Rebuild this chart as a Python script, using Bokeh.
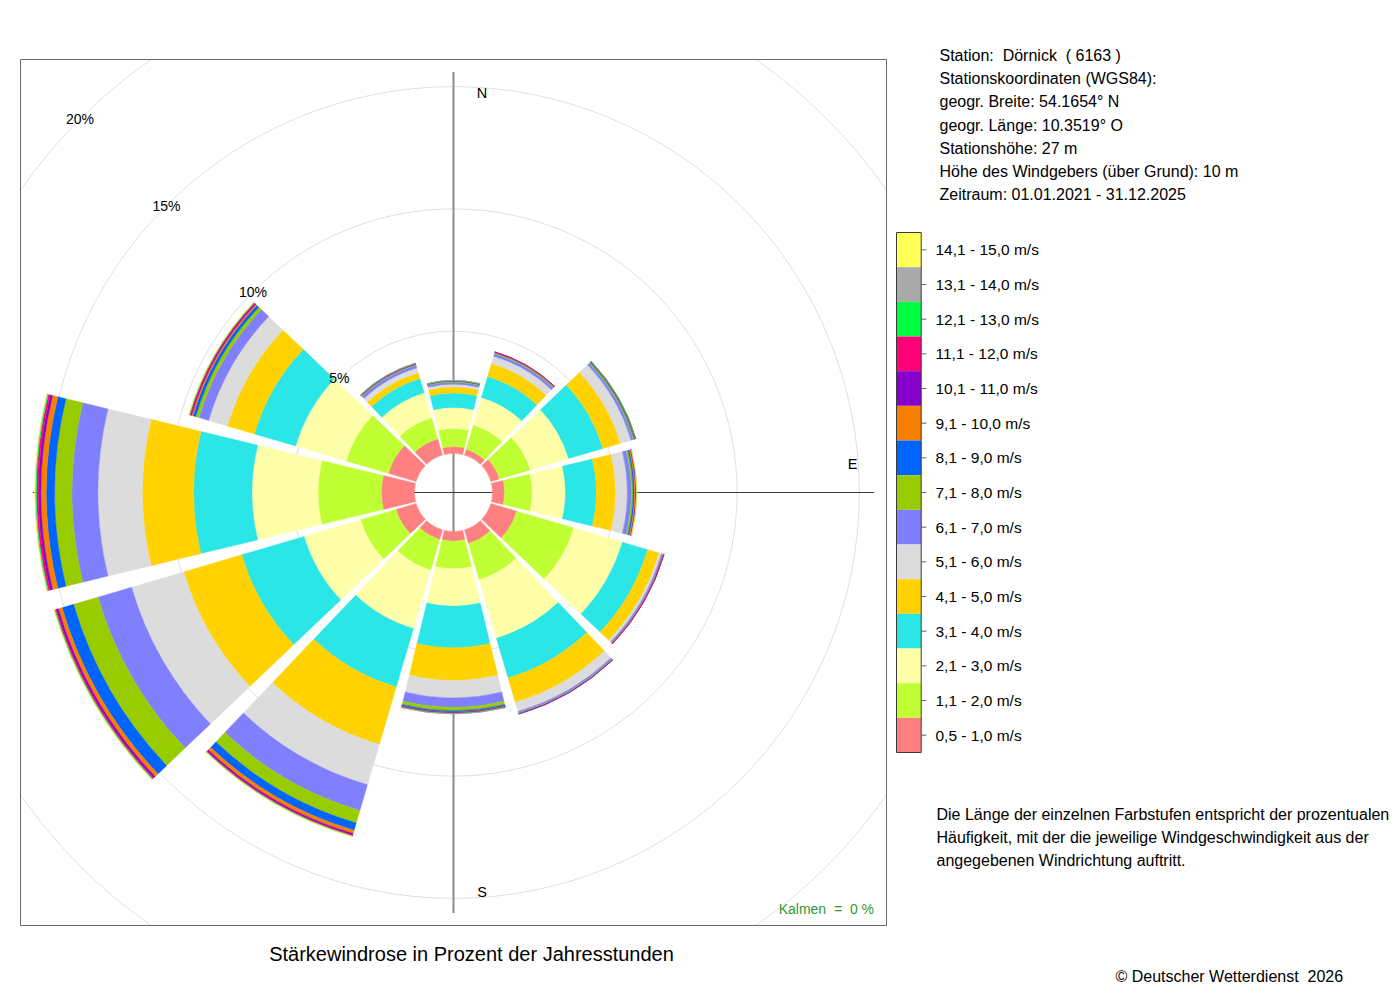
import math
from bokeh.plotting import figure
from bokeh.models import ColumnDataSource, Range1d
from bokeh.core.properties import value
from bokeh.embed import file_html
from bokeh.resources import INLINE

# ---------------- data ----------------
directions = [0, 30, 60, 90, 120, 150, 180, 210, 240, 270, 300, 330]  # compass degrees

speed_classes = ["0,5 - 1,0 m/s", "1,1 - 2,0 m/s", "2,1 - 3,0 m/s", "3,1 - 4,0 m/s",
                 "4,1 - 5,0 m/s", "5,1 - 6,0 m/s", "6,1 - 7,0 m/s", "7,1 - 8,0 m/s",
                 "8,1 - 9,0 m/s", "9,1 - 10,0 m/s", "10,1 - 11,0 m/s", "11,1 - 12,0 m/s",
                 "12,1 - 13,0 m/s", "13,1 - 14,0 m/s", "14,1 - 15,0 m/s"]
class_colors = ["#FF8080", "#C0FF33", "#FFFFAA", "#2AE6E6", "#FFD200", "#DCDCDC",
                "#8080FF", "#99CC00", "#0064FF", "#F88000", "#8800CC", "#FF0078",
                "#00FF40", "#AAAAAA", "#FFFF55"]

# frequency (% of hours) per speed class, one value per direction
freq_00 = [0.28, 0.24, 0.36, 0.49, 1.10, 0.57, 0.39, 0.40, 0.85, 1.35, 1.18, 0.69]
freq_01 = [0.74, 1.04, 1.31, 1.13, 2.43, 1.55, 1.13, 1.31, 1.51, 2.59, 1.80, 0.90]
freq_02 = [0.86, 1.17, 1.64, 1.36, 2.07, 2.49, 1.53, 2.49, 2.41, 2.70, 2.15, 1.06]
freq_03 = [0.59, 0.90, 1.46, 1.26, 1.08, 1.70, 1.70, 2.49, 2.66, 2.39, 1.76, 0.61]
freq_04 = [0.25, 0.55, 0.75, 0.79, 0.49, 1.04, 1.34, 2.45, 2.47, 2.09, 1.15, 0.25]
freq_05 = [0.11, 0.31, 0.45, 0.48, 0.10, 0.39, 0.71, 1.72, 2.23, 1.82, 0.80, 0.20]
freq_06 = [0.08, 0.11, 0.10, 0.16, 0.06, 0.06, 0.38, 1.10, 1.43, 1.06, 0.41, 0.12]
freq_07 = [0.03, 0.04, 0.04, 0.07, 0.02, 0.03, 0.14, 0.53, 1.04, 0.71, 0.14, 0.03]
freq_08 = [0.02, 0.02, 0.03, 0.06, 0.01, 0.01, 0.06, 0.31, 0.49, 0.34, 0.12, 0.02]
freq_09 = [0.01, 0.01, 0.02, 0.05, 0.01, 0.01, 0.02, 0.14, 0.16, 0.22, 0.06, 0.01]
freq_10 = [0.004, 0.005, 0.01, 0.02, 0.005, 0.005, 0.02, 0.06, 0.08, 0.10, 0.04, 0.01]
freq_11 = [0.004, 0.004, 0.005, 0.01, 0.004, 0.0, 0.02, 0.04, 0.05, 0.08, 0.04, 0.01]
freq_12 = [0.004, 0.0, 0.004, 0.01, 0.0, 0.0, 0.01, 0.02, 0.03, 0.04, 0.02, 0.004]
freq_13 = [0.004, 0.0, 0.0, 0.005, 0.0, 0.0, 0.004, 0.01, 0.02, 0.02, 0.01, 0.004]
freq_14 = [0.0, 0.0, 0.0, 0.005, 0.0, 0.0, 0.0, 0.01, 0.01, 0.01, 0.01, 0.0]
frequencies = [freq_00, freq_01, freq_02, freq_03, freq_04, freq_05, freq_06, freq_07,
               freq_08, freq_09, freq_10, freq_11, freq_12, freq_13, freq_14]

ring_ticks = [5, 10, 15, 20]
ring_labels = ["5%", "10%", "15%", "20%"]
calm_text = "Kalmen\u00a0 =\u00a0 0 %"

station_lines = ["Station:\u00a0 Dörnick\u00a0 ( 6163 )",
                 "Stationskoordinaten (WGS84):",
                 "geogr. Breite: 54.1654° N",
                 "geogr. Länge: 10.3519° O",
                 "Stationshöhe: 27 m",
                 "Höhe des Windgebers (über Grund): 10 m",
                 "Zeitraum: 01.01.2021 - 31.12.2025"]
note_lines = ["Die Länge der einzelnen Farbstufen entspricht der prozentualen",
              "Häufigkeit, mit der die jeweilige Windgeschwindigkeit aus der",
              "angegebenen Windrichtung auftritt."]
title_text = "Stärkewindrose in Prozent der Jahresstunden"
copyright_text = "© Deutscher Wetterdienst\u00a0 2026"

# ---------------- layout ----------------
W, H = 1392, 994          # canvas size (canvas starts at page origin)
CX, CY = 453, 492         # rose centre in page pixels
K = 24.45                 # pixels per percent
FONT = value("Liberation Sans")


def X(px):
    return (px - CX) / K


def Y(py):
    return (CY - py) / K


HOLE = 1.6                 # calm circle radius (in % units)
HALF_BOX = 433 / K
AXIS_LEN = 420.5 / K
HALF_W = 13.6              # half width of a sector, degrees

p = figure(width=W, height=H, x_range=Range1d(X(0), X(W)),
           y_range=Range1d(Y(H), Y(0)), output_backend="svg",
           toolbar_location=None, x_axis_location=None, y_axis_location=None,
           min_border=0, title=None, outline_line_color=None)
p.background_fill_color = "white"
p.grid.visible = False

# grid rings
grid_col = "#dfdfdf"
inner_rings = [HOLE + t for t in ring_ticks if HOLE + t < HALF_BOX]
p.circle(x=[0] * len(inner_rings), y=[0] * len(inner_rings), radius=inner_rings,
         fill_color=None, line_color=grid_col, line_width=1)
p.circle(x=[0], y=[0], radius=[HOLE], fill_color=None, line_color="#e8e8e8", line_width=1)
r20 = HOLE + ring_ticks[-1]
a = math.acos(HALF_BOX / r20)
starts = [math.radians(q) + a for q in (0, 90, 180, 270)]
ends = [math.radians(q + 90) - a for q in (0, 90, 180, 270)]
p.arc(x=[0] * 4, y=[0] * 4, radius=r20, start_angle=starts, end_angle=ends,
      line_color=grid_col, line_width=1)

# axis lines
p.segment(x0=[0], y0=[-AXIS_LEN], x1=[0], y1=[AXIS_LEN], line_color="#8c8c8c", line_width=2)
p.segment(x0=[-AXIS_LEN], y0=[0], x1=[AXIS_LEN], y1=[0], line_color="#3c3c3c", line_width=1)

# wedges
inner, outer, st, en, col = [], [], [], [], []
for j, d in enumerate(directions):
    cum = HOLE
    for i, series in enumerate(frequencies):
        v = series[j]
        if v <= 0:
            continue
        inner.append(cum)
        outer.append(cum + v)
        st.append(math.radians(90 - d - HALF_W))
        en.append(math.radians(90 - d + HALF_W))
        col.append(class_colors[i])
        cum += v
src = ColumnDataSource(dict(x=[0] * len(inner), y=[0] * len(inner), inner=inner, outer=outer,
                            start=st, end=en, color=col))
p.annular_wedge(x="x", y="y", inner_radius="inner", outer_radius="outer",
                start_angle="start", end_angle="end", direction="anticlock",
                fill_color="color", line_color="color", line_width=0.4, source=src)

# frame box
p.quad(left=[-HALF_BOX], right=[HALF_BOX], bottom=[-HALF_BOX], top=[HALF_BOX],
       fill_color=None, line_color="#6a6a6a", line_width=1)

# ring labels (NW diagonal)
c45 = math.cos(math.radians(135))
s45 = math.sin(math.radians(135))
p.text(x=[(HOLE + t) * c45 for t in ring_ticks], y=[(HOLE + t) * s45 for t in ring_ticks],
       text=ring_labels, text_font=FONT, text_font_size=value("14px"), text_color="#000000",
       text_align="center", text_baseline="middle")

# compass labels
LAB_R = 16.32
LAB_OFF = 1.17
p.text(x=[LAB_OFF, LAB_R, LAB_OFF], y=[LAB_R, LAB_OFF, -LAB_R], text=["N", "E", "S"],
       text_font=FONT, text_font_size=value("14.5px"), text_color="#000000",
       text_align="center", text_baseline="middle")

# calm text
p.text(x=[X(873.5)], y=[Y(908)], text=[calm_text], text_font=FONT,
       text_font_size=value("14px"), text_color="#339933", text_align="right",
       text_baseline="middle")

# title below
p.text(x=[X(471)], y=[Y(953.2)], text=[title_text], text_font=FONT,
       text_font_size=value("20px"), text_color="#000000", text_align="center",
       text_baseline="middle")

# station info
p.text(x=[X(939)] * len(station_lines), y=[Y(55.0 + 23.2 * i) for i in range(len(station_lines))],
       text=station_lines, text_font=FONT, text_font_size=value("16px"), text_color="#000000",
       text_align="left", text_baseline="middle")

# legend colour bar
LEG_L, LEG_R = 896, 920.7
LEG_TOP, LEG_BOT = 232.0, 752.0
n = len(speed_classes)
STEP = (LEG_BOT - LEG_TOP) / n
tops, bots, lcols, tick_y, labs = [], [], [], [], []
for j in range(n):
    i = n - 1 - j
    t = LEG_TOP + j * STEP
    tops.append(Y(t))
    bots.append(Y(t + STEP))
    lcols.append(class_colors[i])
    tick_y.append(Y(t + STEP / 2))
    labs.append(speed_classes[i])
p.quad(left=[X(LEG_L)] * n, right=[X(LEG_R)] * n, top=tops, bottom=bots,
       fill_color=lcols, line_color=None)
p.quad(left=[X(LEG_L)], right=[X(LEG_R)], top=[Y(LEG_TOP)], bottom=[Y(LEG_BOT)],
       fill_color=None, line_color="#3a3a3a", line_width=1)
p.segment(x0=[X(LEG_R)] * n, y0=tick_y, x1=[X(926)] * n, y1=tick_y,
          line_color="#666666", line_width=1)
p.text(x=[X(935)] * n, y=tick_y, text=labs, text_font=FONT, text_font_size=value("15.5px"),
       text_color="#000000", text_align="left", text_baseline="middle")

# explanatory note
p.text(x=[X(936)] * len(note_lines), y=[Y(813.5 + 23.2 * i) for i in range(len(note_lines))],
       text=note_lines, text_font=FONT, text_font_size=value("16px"), text_color="#000000",
       text_align="left", text_baseline="middle")

# copyright
p.text(x=[X(1115)], y=[Y(976.0)], text=[copyright_text], text_font=FONT,
       text_font_size=value("16px"), text_color="#000000", text_align="left",
       text_baseline="middle")

open("out.html", "w").write(file_html(p, INLINE))
